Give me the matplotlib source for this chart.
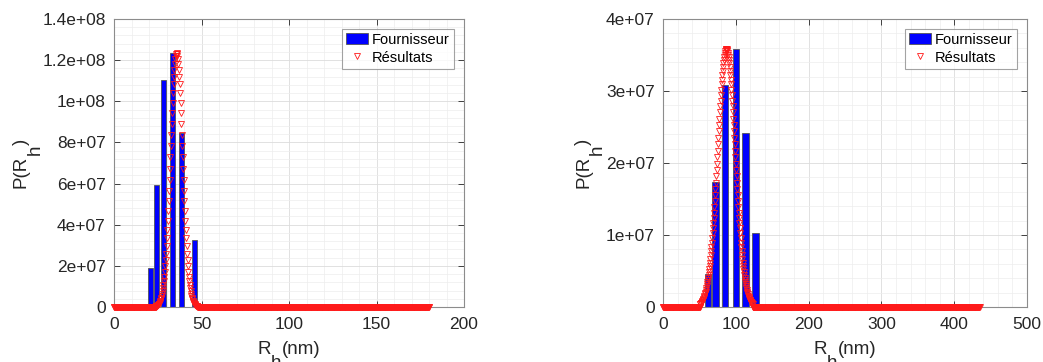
import numpy as np
import matplotlib
matplotlib.use("Agg")
import matplotlib.pyplot as plt
from matplotlib.ticker import MultipleLocator

plt.rcParams['font.family'] = ['Liberation Sans', 'DejaVu Sans']

# ---------------- data ----------------
# Left panel: supplier histogram
left_bar_x = [21.1, 24.5, 28.4, 33.3, 38.5, 45.9]
left_bar_y = [1.90e7, 5.92e7, 1.105e8, 1.234e8, 8.48e7, 3.26e7]

# Left panel: results curve (x grid 24.0 .. 47.5, step 0.25), values in 1e6
left_curve_x = np.arange(24.0, 47.51, 0.25)
left_curve_y_m = [
    0.31, 0.41, 0.52, 0.66, 0.83, 1.05, 1.31, 1.63, 2.02, 2.49, 3.05, 3.72,
    4.50, 5.43, 6.51, 7.75, 9.19, 10.8, 12.7, 14.8, 17.2, 19.9, 22.8, 26.0,
    29.6, 33.4, 37.5, 41.9, 46.5, 51.4, 56.5, 61.8, 67.2, 72.7, 78.2, 83.7,
    89.0, 94.2, 99.2, 103.9, 108.2, 112.0, 115.4, 118.3, 120.5, 122.2, 123.2,
    123.5,
    123.2, 122.2, 120.5, 118.3, 115.4, 112.0, 108.2, 103.9, 99.2, 94.2, 89.0,
    83.7, 78.2, 72.7, 67.2, 61.8, 56.5, 51.4, 46.5, 41.9, 37.5, 33.4, 29.6,
    26.0, 22.8, 19.9, 17.2, 14.8, 12.7, 10.8, 9.19, 7.75, 6.51, 5.43, 4.50,
    3.72, 3.05, 2.49, 2.02, 1.63, 1.31, 1.05, 0.83, 0.66, 0.52, 0.41, 0.31,
]
left_curve_range = (0.0, 180.0)

# Right panel: supplier histogram
right_bar_x = [61.8, 72.2, 85.2, 100.1, 113.4, 126.9]
right_bar_y = [4.55e6, 1.738e7, 3.09e7, 3.587e7, 2.41e7, 1.029e7]

# Right panel: results curve (x grid 51 .. 123, step 0.5), values in 1e6
right_half_m = [
    35.8, 35.77, 35.68, 35.52, 35.31, 35.03, 34.70, 34.31, 33.87, 33.37,
    32.82, 32.23, 31.59, 30.92, 30.20, 29.45, 28.67, 27.86, 27.02, 26.17,
    25.30, 24.41, 23.52, 22.62, 21.71, 20.81, 19.91, 19.01, 18.13, 17.25,
    16.39, 15.54, 14.72, 13.91, 13.12, 12.36, 11.62, 10.91, 10.22, 9.56,
    8.93, 8.32, 7.74, 7.19, 6.67, 6.17, 5.70, 5.26, 4.85, 4.45, 4.09, 3.75,
    3.42, 3.13, 2.85, 2.59, 2.35, 2.13, 1.93, 1.74, 1.57, 1.42, 1.27, 1.14,
    1.02, 0.91, 0.82, 0.73, 0.65, 0.57, 0.51, 0.45, 0.40,
]
right_curve_x = np.arange(51.0, 123.01, 0.5)
right_curve_y_m = right_half_m[::-1] + right_half_m[1:]
right_curve_range = (0.0, 435.0)

left_yticks = [0, 2e7, 4e7, 6e7, 8e7, 1e8, 1.2e8, 1.4e8]
left_yticklabels = ['0', '2e+07', '4e+07', '6e+07', '8e+07', '1e+08', '1.2e+08', '1.4e+08']
left_xticks = [0, 50, 100, 150, 200]
right_yticks = [0, 1e7, 2e7, 3e7, 4e7]
right_yticklabels = ['0', '1e+07', '2e+07', '3e+07', '4e+07']
right_xticks = [0, 100, 200, 300, 400, 500]

legend_labels = ['Fournisseur', 'Résultats']
xlabel_parts = ('R', 'h', '(nm)')
ylabel_parts = ('P(R', 'h', ')')

# ---------------- figure ----------------
W, H = 1043, 362
fig = plt.figure(figsize=(W / 100, H / 100), dpi=100)
TXT = '#262626'
LABEL_FS = 13.5
SUB_SHIFT = 10  # points


def x_label(ax, parts, baseline_px):
    t1 = ax.text(0.5, 0, parts[0], transform=None, fontsize=LABEL_FS,
                 color=TXT, ha='left', va='baseline')
    t2 = ax.annotate(parts[1], xy=(1, 0), xycoords=t1,
                     xytext=(0, -SUB_SHIFT), textcoords='offset points',
                     fontsize=LABEL_FS, color=TXT, ha='left', va='bottom')
    t3 = ax.annotate(parts[2], xy=(1, 0), xycoords=t2,
                     xytext=(0, SUB_SHIFT), textcoords='offset points',
                     fontsize=LABEL_FS, color=TXT, ha='left', va='bottom')
    return [t1, t2, t3], baseline_px


def y_label(ax, parts, right_px):
    t1 = ax.text(0, 0, parts[0], transform=None, fontsize=LABEL_FS,
                 color=TXT, ha='right', va='bottom', rotation=90)
    t2 = ax.annotate(parts[1], xy=(1, 1), xycoords=t1,
                     xytext=(SUB_SHIFT, 0), textcoords='offset points',
                     fontsize=LABEL_FS, color=TXT, ha='right', va='bottom',
                     rotation=90)
    t3 = ax.annotate(parts[2], xy=(1, 1), xycoords=t2,
                     xytext=(-SUB_SHIFT, 0), textcoords='offset points',
                     fontsize=LABEL_FS, color=TXT, ha='right', va='bottom',
                     rotation=90)
    return [t1, t2, t3], right_px


def panel(rect, bar_x, bar_y, bar_w, cx, cy_m, crange, tail_step,
          xlim, xticks, xminor, ylim, yticks, yticklabels, yminor,
          ylab_right_px, leg_x):
    ax = fig.add_axes(rect)
    ax.set_axisbelow(True)
    ax.grid(True, which='major', color='#dcdcdc', lw=0.6)
    ax.grid(True, which='minor', color='#ededed', lw=0.5)
    bars = ax.bar(bar_x, bar_y, width=bar_w, color='#0000ff',
                  edgecolor='#555555', linewidth=0.6, zorder=2)
    cy = np.array(cy_m) * 1e6
    lo_tail = np.arange(crange[0], cx[0] - 1e-9, tail_step)
    hi_tail = np.arange(cx[-1] + tail_step, crange[1] + 1e-9, tail_step)
    xs = np.concatenate([lo_tail, cx, hi_tail])
    ys = np.concatenate([np.zeros_like(lo_tail), cy, np.zeros_like(hi_tail)])
    mk, = ax.plot(xs, ys, linestyle='none', marker='v', markersize=5,
                  markerfacecolor='none', markeredgecolor='#ff1a1a',
                  markeredgewidth=0.6, zorder=3, clip_on=False)
    ax.set_xlim(*xlim)
    ax.set_ylim(*ylim)
    ax.set_xticks(xticks)
    ax.set_xticklabels([str(t) for t in xticks])
    ax.set_yticks(yticks)
    ax.set_yticklabels(yticklabels)
    ax.xaxis.set_minor_locator(MultipleLocator(xminor))
    ax.yaxis.set_minor_locator(MultipleLocator(yminor))
    ax.tick_params(which='both', direction='in', top=True, right=True,
                   colors=TXT, labelsize=12.5, width=0.6)
    ax.tick_params(which='major', length=4)
    ax.tick_params(which='minor', length=0)
    ax.tick_params(axis='x', pad=7)
    ax.tick_params(axis='y', pad=6)
    for s in ax.spines.values():
        s.set_color('#8c8c8c')
        s.set_linewidth(0.8)
    leg = ax.legend([bars, mk], legend_labels, loc='upper right',
                    bbox_to_anchor=(leg_x, 0.967), borderaxespad=0,
                    fontsize=10.5, frameon=True, fancybox=False,
                    handlelength=1.5, handleheight=0.8, handletextpad=0.25,
                    borderpad=0.3, labelspacing=0.25, markerscale=1.0)
    leg.get_frame().set_edgecolor('#8c8c8c')
    leg.get_frame().set_linewidth(0.8)
    xl = x_label(ax, xlabel_parts, 354)
    yl = y_label(ax, ylabel_parts, ylab_right_px)
    return ax, xl, yl


panels = [
    panel([114 / W, (H - 307) / H, 350 / W, 288 / H],
          left_bar_x, left_bar_y, 2.8, left_curve_x, left_curve_y_m,
          left_curve_range, 0.18,
          (0, 200), left_xticks, 10, (0, 1.4e8), left_yticks,
          left_yticklabels, 4e6, 30, 0.971),
    panel([663 / W, (H - 307) / H, 364 / W, 288 / H],
          right_bar_x, right_bar_y, 8.7, right_curve_x, right_curve_y_m,
          right_curve_range, 0.435,
          (0, 500), right_xticks, 20, (0, 4e7), right_yticks,
          right_yticklabels, 2e6, 592, 0.9725),
]

# centre the composed labels on their axes
fig.canvas.draw()
r = fig.canvas.get_renderer()
for ax, (xparts, base_px), (yparts, right_px) in panels:
    pos = ax.get_window_extent(r)
    # x label
    xparts[0].set_position((0, 0))
    fig.canvas.draw()
    ext = [p.get_window_extent(r) for p in xparts]
    width = max(e.x1 for e in ext) - min(e.x0 for e in ext)
    cx_px = (pos.x0 + pos.x1) / 2
    xparts[0].set_position((cx_px - width / 2, H - base_px))
    # y label
    fig.canvas.draw()
    ext = [p.get_window_extent(r) for p in yparts]
    height = max(e.y1 for e in ext) - min(e.y0 for e in ext)
    cy_px = (pos.y0 + pos.y1) / 2
    yparts[0].set_position((right_px, cy_px - height / 2))

fig.savefig('out.png', dpi=100)
